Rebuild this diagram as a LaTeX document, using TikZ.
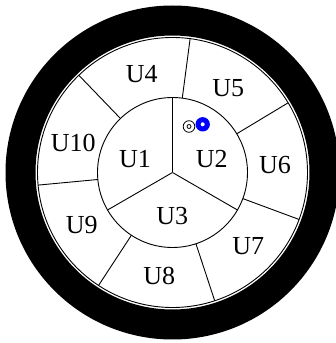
\documentclass[tikz,border=0pt]{standalone}
\usepackage{fontspec}
\setmainfont{Liberation Serif}
\usetikzlibrary{calc}
\begin{document}
\begin{tikzpicture}[x=1pt,y=1pt,
  thinline/.style={line width=0.9pt, black},
  lbl/.style={inner sep=0pt, font=\fontsize{26}{26}\selectfont}]
\useasboundingbox (0,0) rectangle (336,343);
\coordinate (c) at (172.5,170.5);
% outer black ring
\fill[black, even odd rule] (c) circle[radius=167] (c) circle[radius=137];
% thin outer circle
\draw[thinline] (c) circle[radius=135];
% inner circle
\draw[thinline] (c) circle[radius=75];
% inner dividers
\foreach \a in {90,210,330} {
  \draw[thinline] (c) -- ($(c)+(\a:75)$);
}
% outer dividers (7 sectors)
\foreach \k in {0,...,6} {
  \pgfmathsetmacro{\ang}{82.5-360/7*\k}
  \draw[thinline] ($(c)+(\ang:75)$) -- ($(c)+(\ang:135)$);
}
% labels
\node[lbl] (u1) at (135,183.7) {U1};
\node[lbl] (u2) at (211.7,183.7) {U2};
\node[lbl] (u3) at (172.3,127) {U3};
\node[lbl] (u4) at (141.7,269) {U4};
\node[lbl] (u5) at (228.3,254.7) {U5};
\node[lbl] (u6) at (275,178) {U6};
\node[lbl] (u7) at (248.3,97) {U7};
\node[lbl] (u8) at (159.3,67) {U8};
\node[lbl] (u9) at (81.7,117.7) {U9};
\node[lbl] (u10) at (73.3,199.7) {U10};
% small markers
\coordinate (m1) at (189,216.5);
\draw[line width=0.8pt] (m1) circle[radius=5.8];
\draw[line width=0.8pt] (m1) circle[radius=2];
\coordinate (m2) at (202.7,218.7);
\fill[blue] (m2) circle[radius=7.2];
\fill[white] (m2) circle[radius=2];
\end{tikzpicture}
\end{document}
